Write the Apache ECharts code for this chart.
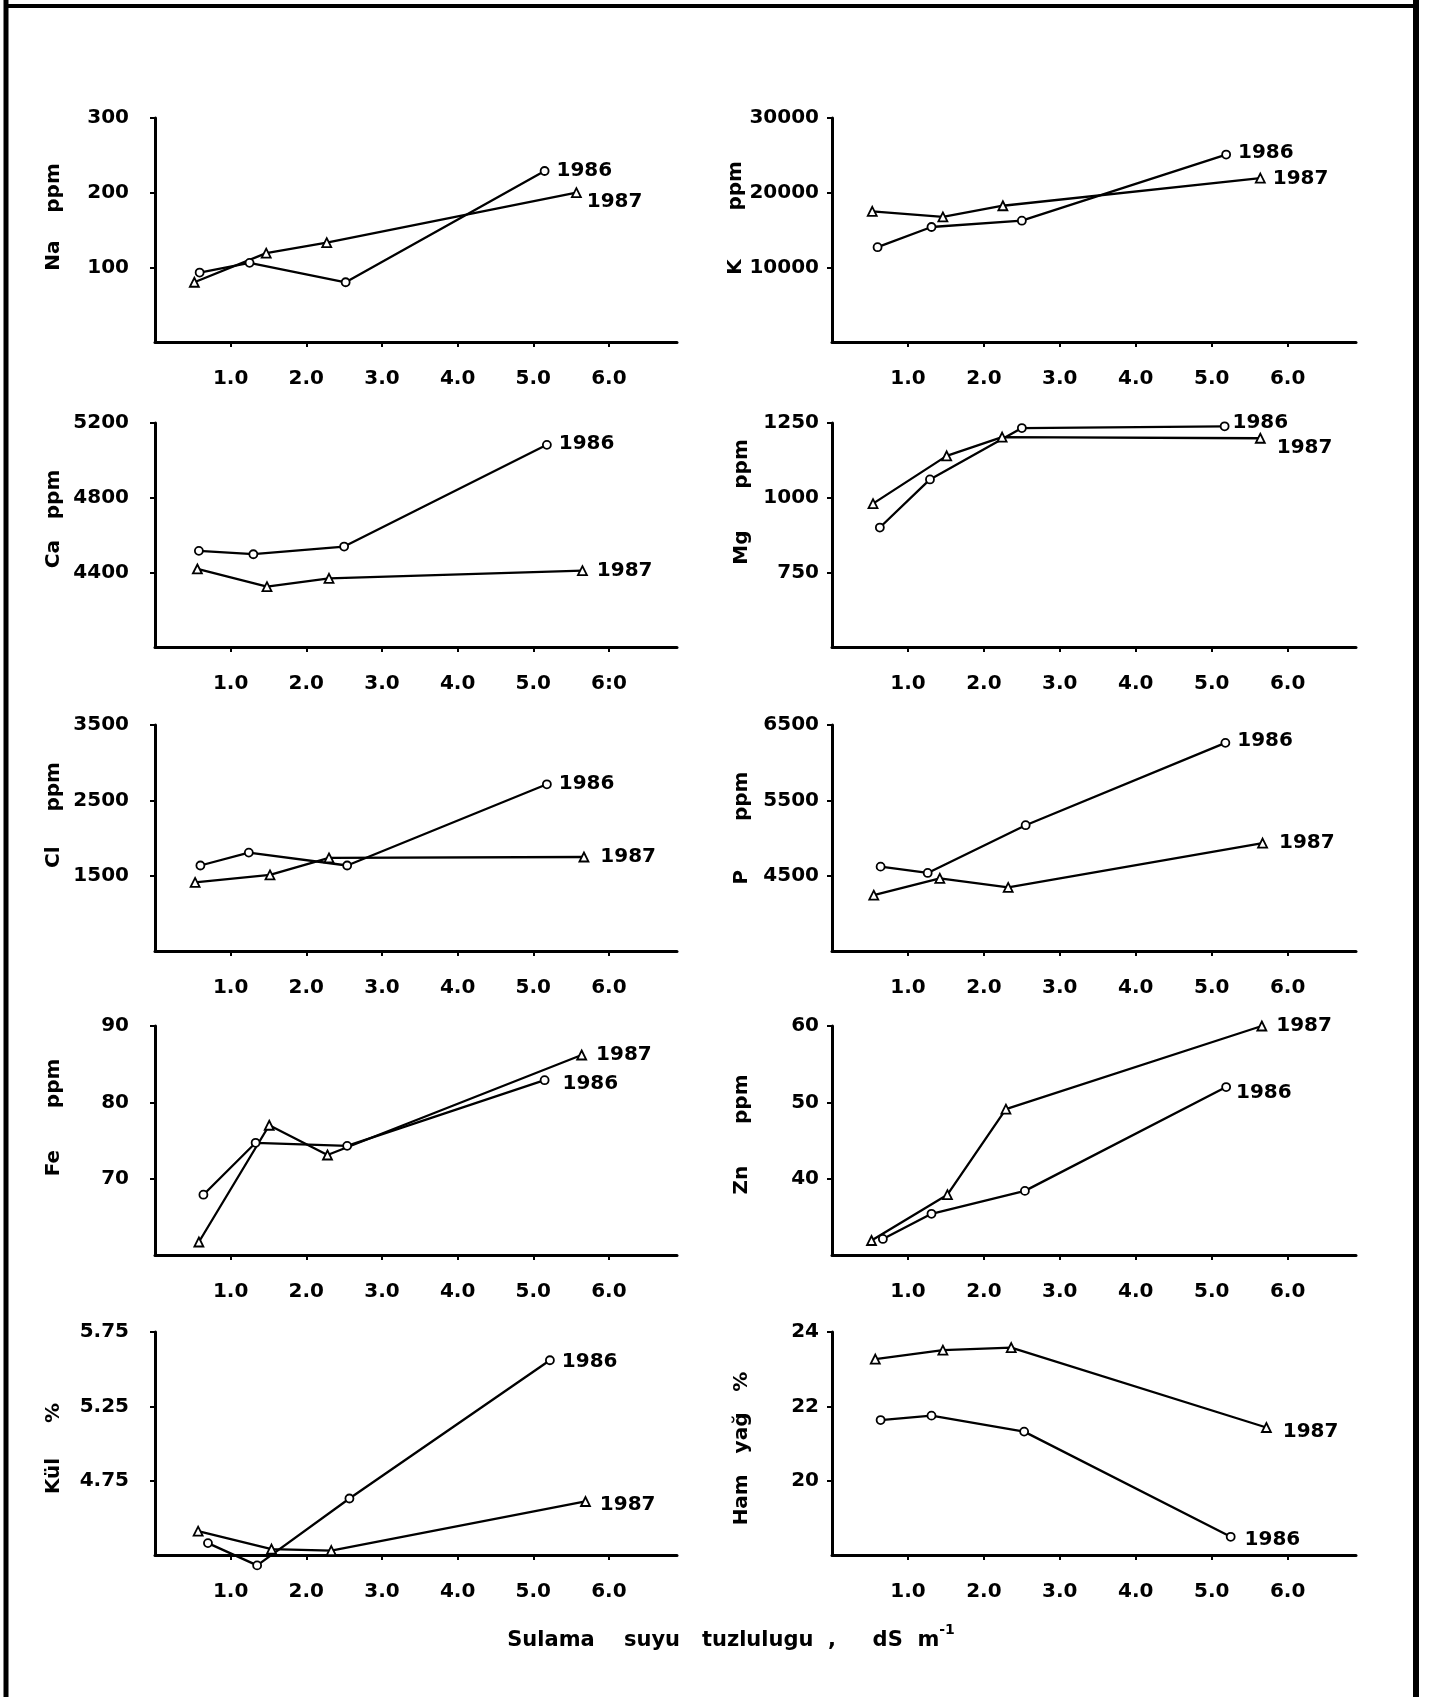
<!DOCTYPE html>
<html><head><meta charset="utf-8">
<script src="https://cdn.jsdelivr.net/npm/echarts@6/dist/echarts.min.js"></script>
<style>html,body{margin:0;padding:0;background:#fff}#c{width:1429px;height:1697px}</style>
</head><body><div id="c"></div>
<script>
// ---- data (x = irrigation water salinity dS/m, y = value) ----
const xTickLabels   = ['1.0','2.0','3.0','4.0','5.0','6.0'];
const xTickLabelsCa = ['1.0','2.0','3.0','4.0','5.0','6:0'];
const xTickValues   = [1, 2, 3, 4, 5, 6];

const na1986 = [[0.59,93],[1.25,106],[2.52,80],[5.15,229]];
const na1987 = [[0.52,80],[1.47,119],[2.27,133],[5.57,200]];
const k1986  = [[0.60,12700],[1.31,15400],[2.50,16250],[5.19,25100]];
const k1987  = [[0.53,17500],[1.46,16750],[2.25,18250],[5.64,21950]];
const ca1986 = [[0.58,4515],[1.30,4497],[2.50,4538],[5.18,5083]];
const ca1987 = [[0.56,4418],[1.48,4323],[2.30,4368],[5.65,4409]];
const mg1986 = [[0.63,900],[1.29,1061],[2.50,1233],[5.17,1239]];
const mg1987 = [[0.54,980],[1.51,1140],[2.24,1203],[5.64,1199]];
const cl1986 = [[0.60,1635],[1.24,1806],[2.54,1635],[5.18,2713]];
const cl1987 = [[0.53,1410],[1.52,1510],[2.30,1735],[5.67,1748]];
const p1986  = [[0.64,4620],[1.26,4536],[2.55,5170],[5.18,6263]];
const p1987  = [[0.55,4241],[1.42,4464],[2.32,4344],[5.67,4933]];
const fe1986 = [[0.64,67.9],[1.33,74.7],[2.54,74.3],[5.15,82.9]];
const fe1987 = [[0.58,61.7],[1.51,77.0],[2.28,73.1],[5.64,86.2]];
const zn1986 = [[0.67,32.1],[1.31,35.4],[2.54,38.4],[5.19,52.0]];
const zn1987 = [[0.52,31.9],[1.52,37.9],[2.29,49.1],[5.66,60.0]];
const kul1986 = [[0.70,4.33],[1.35,4.18],[2.57,4.63],[5.22,5.56]];
const kul1987 = [[0.57,4.41],[1.54,4.29],[2.33,4.28],[5.69,4.61]];
const ham1986 = [[0.64,21.63],[1.31,21.75],[2.53,21.32],[5.25,18.49]];
const ham1987 = [[0.57,23.27],[1.46,23.51],[2.36,23.58],[5.72,21.43]];

const naYTicks  = [0, 100, 200, 300];
const kYTicks   = [0, 10000, 20000, 30000];
const caYTicks  = [4000, 4400, 4800, 5200];
const mgYTicks  = [500, 750, 1000, 1250];
const clYTicks  = [500, 1500, 2500, 3500];
const pYTicks   = [3500, 4500, 5500, 6500];
const feYTicks  = [60, 70, 80, 90];
const znYTicks  = [30, 40, 50, 60];
const kulYTicks = [4.25, 4.75, 5.25, 5.75];
const hamYTicks = [18, 20, 22, 24];

const yearNames = ['1986', '1987'];
const xAxisTitle = 'Sulama    suyu   tuzlulugu  ,     dS  m';
const xAxisTitleSup = '-1';

// ---- layout / style ----
const FONT = 'DejaVu Sans';
const colLeft = [155, 832], colWidth = [522, 524];
const rowTop = [118, 423, 725, 1026, 1332], rowHeight = [224, 224, 226, 229, 223];
const X_MAX = 6.9;

const panels = [
  {name:'Na    ppm',      d86:na1986,  d87:na1987,  yt:naYTicks,  xl:xTickLabels,   row:0, col:0, shift:-13, off86:[2,0],  off87:[0,9]},
  {name:'K       ppm',    d86:k1986,   d87:k1987,   yt:kYTicks,   xl:xTickLabels,   row:0, col:1, shift:-12, off86:[2,-2], off87:[2,1]},
  {name:'Ca   ppm',       d86:ca1986,  d87:ca1987,  yt:caYTicks,  xl:xTickLabelsCa, row:1, col:0, shift:-16, off86:[2,-1], off87:[4,0]},
  {name:'Mg      ppm',    d86:mg1986,  d87:mg1987,  yt:mgYTicks,  xl:xTickLabels,   row:1, col:1, shift:-33, off86:[-2,-3],off87:[6,10]},
  {name:'Cl     ppm',     d86:cl1986,  d87:cl1987,  yt:clYTicks,  xl:xTickLabels,   row:2, col:0, shift:-23, off86:[2,0],  off87:[6,0]},
  {name:'P       ppm',    d86:p1986,   d87:p1987,   yt:pYTicks,   xl:xTickLabels,   row:2, col:1, shift:-10, off86:[2,-2], off87:[6,0]},
  {name:'Fe      ppm',    d86:fe1986,  d87:fe1987,  yt:feYTicks,  xl:xTickLabels,   row:3, col:0, shift:-23, off86:[8,4],  off87:[4,0]},
  {name:'Zn      ppm',    d86:zn1986,  d87:zn1987,  yt:znYTicks,  xl:xTickLabels,   row:3, col:1, shift:-6,  off86:[0,6],  off87:[4,0]},
  {name:'Kül     %',      d86:kul1986, d87:kul1987, yt:kulYTicks, xl:xTickLabels,   row:4, col:0, shift:5,   off86:[2,2],  off87:[4,3]},
  {name:'Ham   yağ   %',  d86:ham1986, d87:ham1987, yt:hamYTicks, xl:xTickLabels,   row:4, col:1, shift:5,   off86:[4,3],  off87:[6,4]}
];

const txt = {color:'#000', fontFamily:FONT, fontWeight:'bold', fontSize:20};
const grids = [], xAxes = [], yAxes = [], series = [];

function mk(arr, off) {
  return arr.map((pt, j) => j === arr.length - 1
    ? {value: pt, label: {show: true, position: 'right', distance: 5, offset: off}}
    : {value: pt});
}

panels.forEach((p, i) => {
  grids.push({left: colLeft[p.col], top: rowTop[p.row], width: colWidth[p.col], height: rowHeight[p.row]});
  const lab = p.xl;
  xAxes.push({
    type: 'value', gridIndex: i, min: 0, max: X_MAX, interval: 1,
    axisLine: {show: true, onZero: false, lineStyle: {color: '#000', width: 3}},
    axisTick: {show: true, length: 5, customValues: xTickValues, lineStyle: {color: '#000', width: 2}},
    axisLabel: Object.assign({show: true, margin: 27, customValues: xTickValues,
      formatter: v => lab[Math.round(v) - 1] || ''}, txt),
    splitLine: {show: false}
  });
  const yt = p.yt;
  const shiftPad = p.shift < 0 ? [0, 0, 0, -2 * p.shift] : [0, 2 * p.shift, 0, 0];
  yAxes.push({
    type: 'value', gridIndex: i, min: yt[0], max: yt[yt.length - 1], interval: yt[1] - yt[0],
    name: p.name, nameLocation: 'middle', nameRotate: 90, nameGap: p.col === 0 ? 91 : 80,
    nameTextStyle: Object.assign({padding: shiftPad}, txt),
    axisLine: {show: true, onZero: false, lineStyle: {color: '#000', width: 3}},
    axisTick: {show: true, length: 5, customValues: yt.slice(1), lineStyle: {color: '#000', width: 2}},
    axisLabel: Object.assign({show: true, margin: p.col === 0 ? 26 : 13, customValues: yt.slice(1),
      formatter: v => String(v)}, txt),
    splitLine: {show: false}
  });
  [[p.d86, p.off86, 'circle', 8], [p.d87, p.off87, 'triangle', 9]].forEach((s, k) => {
    series.push({
      type: 'line', name: yearNames[k], xAxisIndex: i, yAxisIndex: i,
      data: mk(s[0], s[1]), symbol: s[2], symbolSize: s[3], showAllSymbol: true,
      lineStyle: {color: '#000', width: 2.3},
      itemStyle: {color: '#fff', borderColor: '#000', borderWidth: 1.8},
      label: Object.assign({show: false, formatter: '{a}'}, txt),
      emphasis: {disabled: true},
      clip: false, animation: false, z: 3
    });
  });
});

const chart = echarts.init(document.getElementById('c'), null, {renderer: 'canvas', width: 1429, height: 1697});
chart.setOption({
  backgroundColor: '#fff',
  animation: false,
  grid: grids, xAxis: xAxes, yAxis: yAxes, series: series,
  graphic: [
    {type: 'line', shape: {x1: 6, y1: 0, x2: 6, y2: 1697}, style: {stroke: '#000', lineWidth: 5}},
    {type: 'line', shape: {x1: 4, y1: 6, x2: 1419, y2: 6}, style: {stroke: '#000', lineWidth: 4}},
    {type: 'line', shape: {x1: 1416, y1: 0, x2: 1416, y2: 1697}, style: {stroke: '#000', lineWidth: 6}},
    {type: 'text', x: 731, y: 1641, style: {
      text: '{a|' + xAxisTitle + '}{s|' + xAxisTitleSup + '}',
      align: 'center', verticalAlign: 'middle',
      rich: {
        a: {fontFamily: FONT, fontWeight: 'bold', fontSize: 21, lineHeight: 36, fill: '#000', color: '#000'},
        s: {fontFamily: FONT, fontWeight: 'bold', fontSize: 14, verticalAlign: 'top', lineHeight: 14, fill: '#000', color: '#000'}
      }
    }}
  ]
});
</script></body></html>
